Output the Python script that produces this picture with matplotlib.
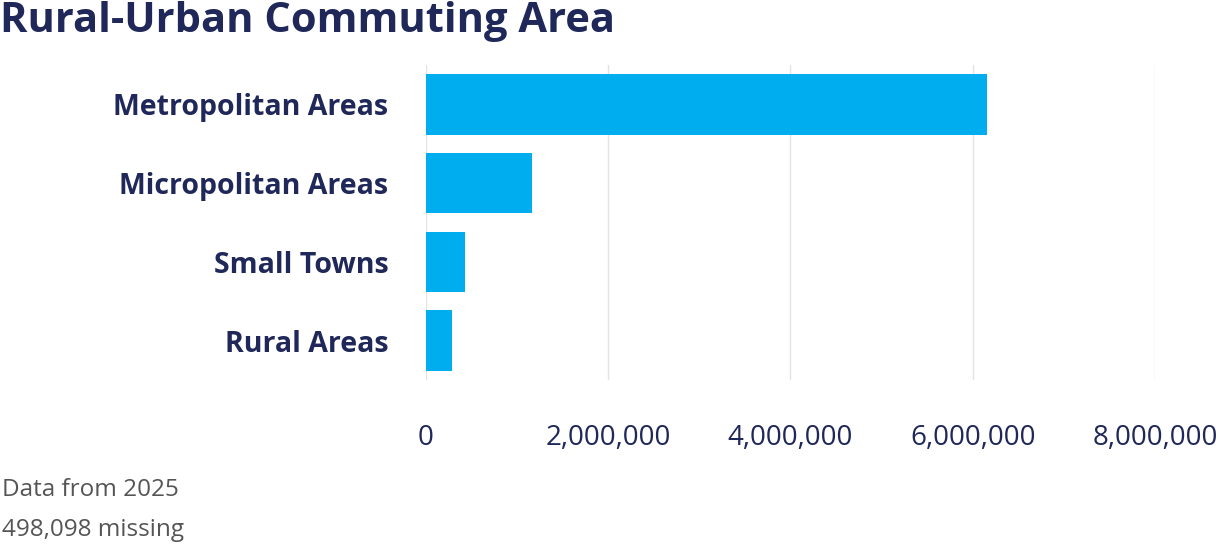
import matplotlib.pyplot as plt
from matplotlib.ticker import FuncFormatter

# datos
categories = ['Metropolitan Areas', 'Micropolitan Areas', 'Small Towns', 'Rural Areas']
values = [6160000, 1160000, 430000, 285000]
ticks = [0, 2000000, 4000000, 6000000, 8000000]

navy = '#1f2859'
bar_color = '#00aeef'
plt.rcParams['font.family'] = ['Open Sans', 'DejaVu Sans']

fig = plt.figure(figsize=(12.3, 5.46), dpi=100)
ax = fig.add_axes([426 / 1230, 1 - 380 / 546, (1155 - 426) / 1230, 315 / 546])

ax.barh(range(len(categories)), values, height=0.77, color=bar_color, zorder=2)
ax.set_ylim(3.5, -0.5)
ax.set_xlim(0, 8000000)

ax.set_yticks(range(len(categories)))
ax.set_yticklabels(categories, fontsize=20.5, fontweight='bold', color=navy)
ax.set_xticks(ticks)
ax.xaxis.set_major_formatter(FuncFormatter(lambda v, p: f'{int(v):,}'))
ax.tick_params(axis='x', labelsize=20, labelcolor=navy, length=0, pad=32)
ax.tick_params(axis='y', length=0, pad=27)

ax.grid(axis='x', color='#e3e3e3', linewidth=1, zorder=0)
for s in ax.spines.values():
    s.set_visible(False)

fig.text(0.0, 1 - 21 / 546, 'Rural-Urban Commuting Area', fontsize=30, fontweight='bold',
         color=navy, va='center', ha='left')
fig.text(0.002, 1 - 490 / 546, 'Data from 2025', fontsize=17.5, color='#555555', va='center')
fig.text(0.002, 1 - 530 / 546, '498,098 missing', fontsize=17.5, color='#555555', va='center')

fig.savefig('out.png', dpi=100)
